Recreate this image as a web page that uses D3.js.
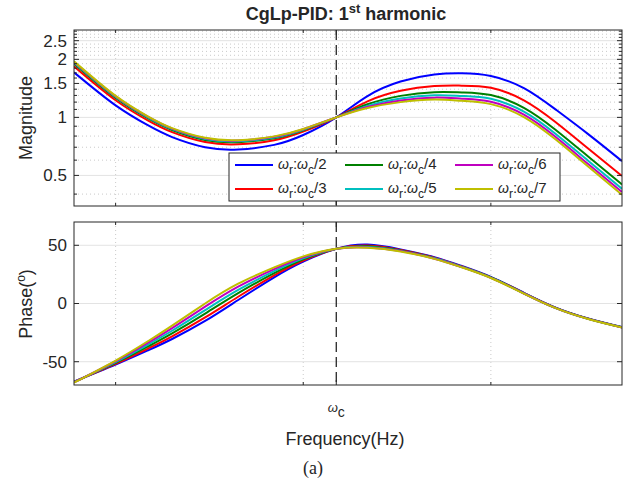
<!DOCTYPE html>
<html>
<head>
<meta charset="utf-8">
<script src="https://cdn.jsdelivr.net/npm/d3@7"></script>
<style>
  body { margin: 0; background: #fff; }
  text { font-family: "Liberation Sans", Arial, Helvetica, sans-serif; fill: #262626; }
</style>
</head>
<body>
<div id="chart"></div>
<script>
// frequency samples (Hz), crossover frequency wc = 150 Hz
const freqs = [6, 10, 15, 20, 30, 45, 70, 100, 150, 220, 330, 500, 700, 1000, 1500, 2200, 3300, 5000];
const wc = 150;

// magnitude (abs) per ratio wr:wc/n
const mag2 = [1.712, 1.154, 0.905, 0.790, 0.700, 0.682, 0.720, 0.810, 1.0, 1.290, 1.534, 1.668, 1.692, 1.638, 1.419, 1.104, 0.819, 0.593];
const mag3 = [1.840, 1.228, 0.960, 0.839, 0.745, 0.725, 0.761, 0.843, 1.0, 1.211, 1.373, 1.453, 1.461, 1.423, 1.227, 0.950, 0.690, 0.497];
const mag4 = [1.897, 1.261, 0.984, 0.860, 0.764, 0.744, 0.779, 0.857, 1.0, 1.169, 1.293, 1.352, 1.348, 1.305, 1.121, 0.866, 0.627, 0.449];
const mag5 = [1.922, 1.276, 0.994, 0.869, 0.773, 0.752, 0.787, 0.863, 1.0, 1.147, 1.253, 1.302, 1.292, 1.248, 1.071, 0.825, 0.596, 0.426];
const mag6 = [1.940, 1.286, 1.002, 0.875, 0.779, 0.758, 0.793, 0.868, 1.0, 1.131, 1.224, 1.266, 1.251, 1.205, 1.033, 0.795, 0.573, 0.410];
const mag7 = [1.953, 1.293, 1.007, 0.880, 0.784, 0.762, 0.797, 0.871, 1.0, 1.118, 1.200, 1.237, 1.219, 1.172, 1.004, 0.772, 0.556, 0.397];

// phase (deg)
const phase2 = [-67.0, -52.5, -40.0, -30.5, -15.0, 3.0, 22.5, 36.0, 47, 50.6, 46.5, 39.8, 32.2, 22.8, 9.2, -3.3, -12.9, -20.3];
const phase3 = [-67.2, -51.8, -38.4, -28.2, -12.0, 5.8, 24.2, 36.9, 47, 49.8, 46.0, 39.4, 31.8, 22.5, 9.0, -3.5, -13.0, -20.4];
const phase4 = [-67.4, -51.0, -36.6, -25.7, -8.7, 8.9, 26.1, 37.9, 47, 49.1, 45.5, 39.0, 31.5, 22.3, 8.8, -3.6, -13.1, -20.5];
const phase5 = [-67.6, -50.3, -35.0, -23.4, -5.7, 11.7, 27.8, 38.8, 47, 48.6, 45.2, 38.8, 31.4, 22.2, 8.7, -3.7, -13.2, -20.5];
const phase6 = [-67.8, -49.6, -33.4, -21.1, -2.7, 14.5, 29.5, 39.7, 47, 48.2, 45.0, 38.5, 31.2, 22.0, 8.6, -3.7, -13.2, -20.6];
const phase7 = [-68.0, -49.0, -32.0, -19.0, 0.0, 17.0, 31.0, 40.5, 47, 47.8, 44.7, 38.3, 31.0, 21.9, 8.5, -3.8, -13.3, -20.6];

const ratios = ["2", "3", "4", "5", "6", "7"];
const colors = ["#0000ff", "#ff0000", "#008000", "#00bfbf", "#bf00bf", "#bfbf00"];
const mags = [mag2, mag3, mag4, mag5, mag6, mag7];
const phases = [phase2, phase3, phase4, phase5, phase6, phase7];

// ticks
const magTicks = [0.5, 1, 1.5, 2, 2.5];
const magMinor = [0.4, 0.6, 0.7, 0.8, 0.9, 1.1, 1.2, 1.3, 1.4, 1.6, 1.7, 1.8, 1.9, 2.1, 2.2, 2.3, 2.4, 2.6, 2.7, 2.8];
const phaseTicks = [-50, 0, 50];
const decades = [10, 100, 1000];

const W = 638, H = 486;
const L = 74, R = 622;
const top1 = 30, bot1 = 206, top2 = 222, bot2 = 385;

const svg = d3.select("#chart").append("svg")
  .attr("width", W).attr("height", H);

const x = d3.scaleLog().domain([6, 5000]).range([L, R]);
const yMag = d3.scaleLog().domain([0.347, 2.84]).range([bot1, top1]);
const yPh = d3.scaleLinear().domain([-70, 70]).range([bot2, top2]);

const defs = svg.append("defs");
defs.append("clipPath").attr("id", "clip1").append("rect")
  .attr("x", L).attr("y", top1).attr("width", R - L).attr("height", bot1 - top1);
defs.append("clipPath").attr("id", "clip2").append("rect")
  .attr("x", L).attr("y", top2).attr("width", R - L).attr("height", bot2 - top2);

function panel(top, bot, y, majors, minors, clipId, data) {
  const g = svg.append("g");
  g.append("rect").attr("x", L).attr("y", top).attr("width", R - L).attr("height", bot - top)
    .attr("fill", "#fff");
  // minor horizontal grid
  g.selectAll(".hmin").data(minors).enter().append("line")
    .attr("x1", L).attr("x2", R).attr("y1", d => y(d)).attr("y2", d => y(d))
    .attr("stroke", "#bdbdbd").attr("stroke-width", 0.8).attr("stroke-dasharray", "1,3");
  // vertical minor grid at decades
  g.selectAll(".vmin").data(decades).enter().append("line")
    .attr("x1", d => x(d)).attr("x2", d => x(d)).attr("y1", top).attr("y2", bot)
    .attr("stroke", "#bdbdbd").attr("stroke-width", 0.8).attr("stroke-dasharray", "1,3");
  // major horizontal grid
  g.selectAll(".hmaj").data(majors).enter().append("line")
    .attr("x1", L).attr("x2", R).attr("y1", d => y(d)).attr("y2", d => y(d))
    .attr("stroke", "#e3e3e3").attr("stroke-width", 1);

  // curves
  const line = d3.line()
    .x(d => x(d[0])).y(d => y(d[1]))
    .curve(d3.curveNatural);
  const cg = g.append("g").attr("clip-path", "url(#" + clipId + ")");
  data.forEach((vals, i) => {
    cg.append("path")
      .datum(freqs.map((f, k) => [f, vals[k]]))
      .attr("d", line)
      .attr("fill", "none")
      .attr("stroke", colors[i])
      .attr("stroke-width", 2);
  });

  // dashed crossover line
  g.append("line").attr("x1", x(wc)).attr("x2", x(wc)).attr("y1", top).attr("y2", bot)
    .attr("stroke", "#262626").attr("stroke-width", 1.3).attr("stroke-dasharray", "10,5");

  // ticks
  const tk = g.append("g").attr("stroke", "#262626").attr("stroke-width", 1);
  majors.forEach(v => {
    tk.append("line").attr("x1", L).attr("x2", L + 5).attr("y1", y(v)).attr("y2", y(v));
    tk.append("line").attr("x1", R).attr("x2", R - 5).attr("y1", y(v)).attr("y2", y(v));
  });
  minors.forEach(v => {
    tk.append("line").attr("x1", L).attr("x2", L + 3).attr("y1", y(v)).attr("y2", y(v));
    tk.append("line").attr("x1", R).attr("x2", R - 3).attr("y1", y(v)).attr("y2", y(v));
  });
  decades.forEach(v => {
    tk.append("line").attr("x1", x(v)).attr("x2", x(v)).attr("y1", bot).attr("y2", bot - 3);
    tk.append("line").attr("x1", x(v)).attr("x2", x(v)).attr("y1", top).attr("y2", top + 3);
  });
  tk.append("line").attr("x1", x(wc)).attr("x2", x(wc)).attr("y1", bot).attr("y2", bot - 5);
  tk.append("line").attr("x1", x(wc)).attr("x2", x(wc)).attr("y1", top).attr("y2", top + 5);

  // box
  g.append("rect").attr("x", L).attr("y", top).attr("width", R - L).attr("height", bot - top)
    .attr("fill", "none").attr("stroke", "#262626").attr("stroke-width", 1);

  // tick labels
  g.selectAll(".tl").data(majors).enter().append("text")
    .attr("x", L - 7).attr("y", d => y(d)).attr("dy", "0.35em")
    .attr("text-anchor", "end").attr("font-size", 17)
    .text(d => d);
  return g;
}

panel(top1, bot1, yMag, magTicks, magMinor, "clip1", mags);
panel(top2, bot2, yPh, phaseTicks, [], "clip2", phases);

// title
const title = svg.append("text").attr("x", 346).attr("y", 20)
  .attr("text-anchor", "middle").attr("font-size", 18).attr("font-weight", "bold");
title.append("tspan").text("CgLp-PID: 1");
title.append("tspan").attr("font-size", 13).attr("dy", -7).text("st");
title.append("tspan").attr("dy", 7).text(" harmonic");

// y labels
svg.append("text").attr("transform", "translate(32,118) rotate(-90)")
  .attr("text-anchor", "middle").attr("font-size", 18).text("Magnitude");
const ph = svg.append("text").attr("transform", "translate(32,304) rotate(-90)")
  .attr("text-anchor", "middle").attr("font-size", 18);
ph.append("tspan").text("Phase(");
ph.append("tspan").attr("font-size", 12).attr("dy", -7).text("o");
ph.append("tspan").attr("dy", 7).text(")");

// x tick label omega_c
const wl = svg.append("text").attr("x", x(wc)).attr("y", 412)
  .attr("text-anchor", "middle").attr("font-size", 13);
wl.append("tspan").attr("font-style", "italic").text("ω");
wl.append("tspan").attr("font-size", 14).attr("dy", 5).text("c");

svg.append("text").attr("x", 345).attr("y", 445)
  .attr("text-anchor", "middle").attr("font-size", 18).text("Frequency(Hz)");

svg.append("text").attr("x", 313).attr("y", 474)
  .attr("text-anchor", "middle").attr("font-size", 18)
  .style("font-family", "'Liberation Serif', 'Times New Roman', serif")
  .text("(a)");

// legend
const lg = svg.append("g");
lg.append("rect").attr("x", 229).attr("y", 153).attr("width", 331).attr("height", 48)
  .attr("fill", "#fff").attr("stroke", "#262626").attr("stroke-width", 1);
ratios.forEach((r, i) => {
  const col = Math.floor(i / 2), row = i % 2;
  const lx = 235 + col * 110, ly = 165 + row * 24;
  lg.append("line").attr("x1", lx).attr("x2", lx + 38).attr("y1", ly).attr("y2", ly)
    .attr("stroke", colors[i]).attr("stroke-width", 2);
  const t = lg.append("text").attr("x", lx + 43).attr("y", ly + 4).attr("font-size", 15);
  t.append("tspan").attr("font-style", "italic").attr("font-size", 14).text("ω");
  t.append("tspan").attr("font-size", 12).attr("dy", 5).text("r");
  t.append("tspan").attr("dy", -5).text(":");
  t.append("tspan").attr("font-style", "italic").attr("font-size", 14).text("ω");
  t.append("tspan").attr("font-size", 12).attr("dy", 5).text("c");
  t.append("tspan").attr("dy", -5).text("/" + r);
});
</script>
</body>
</html>
